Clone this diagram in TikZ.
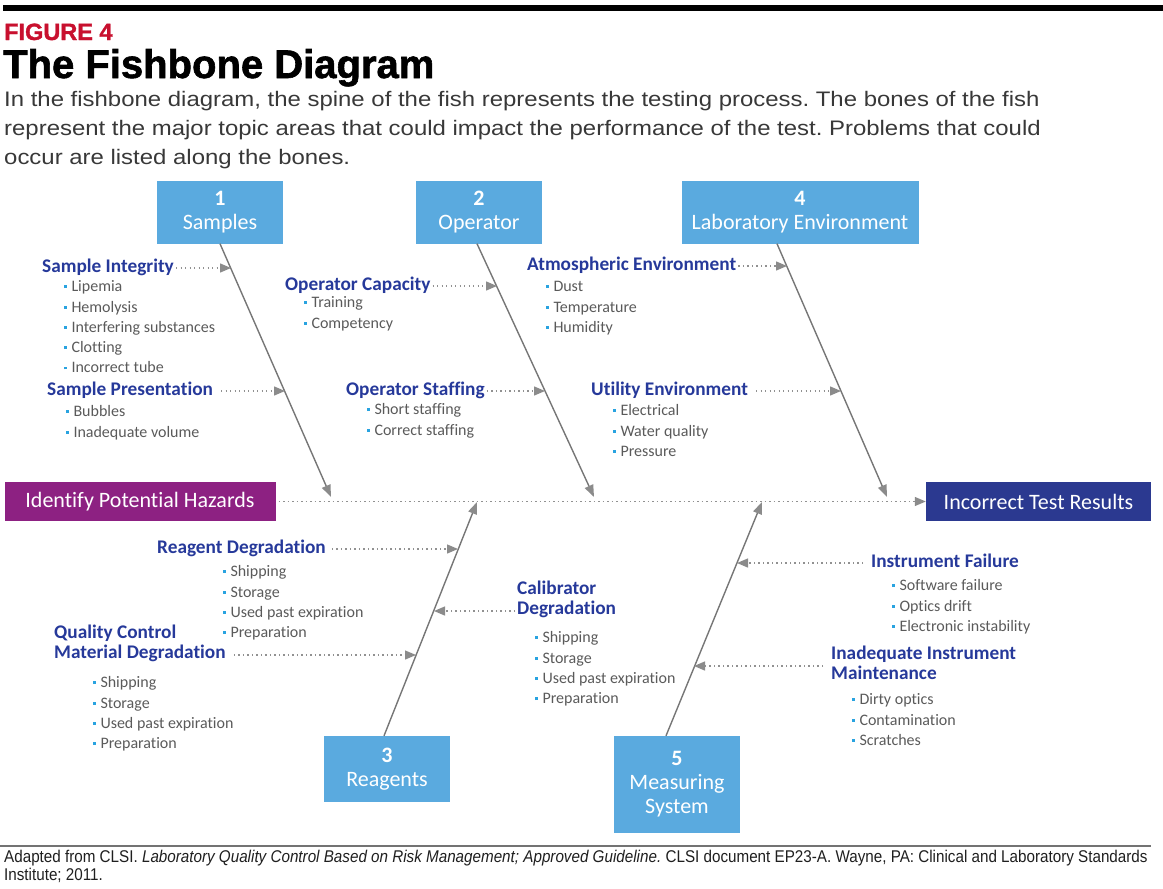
\documentclass[tikz,border=0pt]{standalone}
\usepackage{fontspec}
\usepackage{xcolor}
\setmainfont{Liberation Sans}
\newfontfamily\diagfont[Ligatures=NoCommon]{Carlito}
\newfontfamily\introfont[FakeStretch=1.14]{Liberation Sans}
\newfontfamily\heavyfont[FakeBold=1.5]{Liberation Sans Bold}
\newfontfamily\notefont[FakeStretch=0.895]{Liberation Sans}
\usetikzlibrary{arrows.meta}
\frenchspacing

\definecolor{boxblue}{HTML}{5AAADF}
\definecolor{hazpurple}{HTML}{8D2182}
\definecolor{resnavy}{HTML}{2B3990}
\definecolor{headblue}{HTML}{26399A}
\definecolor{itemgray}{HTML}{5A5A5A}
\definecolor{dotblue}{HTML}{29A3E0}
\definecolor{bonegray}{HTML}{767676}
\definecolor{figred}{HTML}{C8102E}

\newcommand{\itm}[1]{\strut\textcolor{dotblue}{\rule[3.5pt]{2.8pt}{2.8pt}}\hspace{4.5pt}#1}

\tikzset{
  catbox/.style={fill=boxblue, text=white, align=center, inner sep=0pt,
    font=\diagfont\fontsize{22}{24}\selectfont},
  endbox/.style={text=white, inner sep=0pt, minimum height=39pt,
    font=\diagfont\fontsize{22}{24}\selectfont},
  cause/.style={text=headblue, anchor=west, align=left, inner sep=2pt,
    font=\diagfont\bfseries\fontsize{19.3}{20.5}\selectfont, execute at begin node=\strut},
  items/.style={text=itemgray, anchor=north west, align=left, inner sep=0pt,
    font=\diagfont\fontsize{16}{20.3}\selectfont},
  bone/.style={draw=bonegray, line width=1.4pt,
    -{Triangle[length=12pt,width=9pt,fill=bonegray!85,color=bonegray!85]}},
  feed/.style={draw=bonegray!80, line width=1.3pt, dash pattern=on 1.3pt off 3.2pt,
    -{Triangle[length=11pt,width=9pt,fill=bonegray!85,color=bonegray!85]}}
}

\begin{document}
\begin{tikzpicture}[x=1pt,y=-1pt]
  \useasboundingbox (0,0) rectangle (1163,889);

  \fill[black] (3,5) rectangle (1163,11);
  \node[anchor=base west, inner sep=0pt, text=figred, font=\heavyfont\fontsize{23.5}{24}\selectfont] (fig) at (4,40) {FIGURE 4};
  \node[anchor=base west, inner sep=0pt, font=\heavyfont\fontsize{40}{42}\selectfont] (title) at (3,78) {The Fishbone Diagram};
  \node[anchor=north west, inner sep=0pt, align=left, text=black!78, font=\introfont\fontsize{21}{29}\selectfont] (intro) at (4,85.7)
    {\strut In the fishbone diagram, the spine of the fish represents the testing process. The bones of the fish\\
     represent the major topic areas that could impact the performance of the test. Problems that could\\
     occur are listed along the bones.};

  \node[catbox, minimum width=126pt, minimum height=63pt] (samples) at (220,212) {\textbf{1}\\Samples};
  \node[catbox, minimum width=126pt, minimum height=63pt] (operator) at (479,212) {\textbf{2}\\Operator};
  \node[catbox, minimum width=237pt, minimum height=63pt] (labenv) at (800,212) {\textbf{4}\\Laboratory Environment};
  \node[catbox, minimum width=126pt, minimum height=66pt] (reagents) at (387,769) {\textbf{3}\\Reagents};
  \node[catbox, minimum width=126pt, minimum height=97pt] (measuring) at (677,784.5) {\textbf{5}\\Measuring\\System};

  \node[endbox, fill=hazpurple, minimum width=271pt] (hazards) at (140,501.5) {Identify Potential Hazards};
  \node[endbox, fill=resnavy, minimum width=225pt] (results) at (1038.5,501.5) {Incorrect Test Results};

  \coordinate (t1) at (331,497);
  \coordinate (t2) at (594,497);
  \coordinate (t4) at (887,497);
  \coordinate (t3) at (477,502);
  \coordinate (t5) at (762,502);

  \draw[feed, shorten <=3pt] (hazards.east) -- (results.west);
  \draw[bone] (samples.south) -- (t1);
  \draw[bone] ([xshift=-2pt]operator.south) -- (t2);
  \draw[bone] ([xshift=-23pt]labenv.south) -- (t4);
  \draw[bone] ([xshift=-3pt]reagents.north) -- (t3);
  \draw[bone] ([xshift=-11pt]measuring.north) -- (t5);

  \node[cause] (integ) at (40,268) {Sample Integrity};
  \node[items] (integlist) at (64,277.3) {\itm{Lipemia}\\\itm{Hemolysis}\\\itm{Interfering substances}\\\itm{Clotting}\\\itm{Incorrect tube}};
  \node[cause] (present) at (45,391) {Sample Presentation};
  \node[items] (presentlist) at (66,402.3) {\itm{Bubbles}\\\itm{Inadequate volume}};
  \node[cause] (capacity) at (283,286) {Operator Capacity};
  \node[items] (capacitylist) at (304,293.3) {\itm{Training}\\\itm{Competency}};
  \node[cause] (staffing) at (344,391) {Operator Staffing};
  \node[items] (staffinglist) at (367,400.3) {\itm{Short staffing}\\\itm{Correct staffing}};
  \node[cause] (atmos) at (525,266) {Atmospheric Environment};
  \node[items] (atmoslist) at (546,277.3) {\itm{Dust}\\\itm{Temperature}\\\itm{Humidity}};
  \node[cause] (utility) at (589,391) {Utility Environment};
  \node[items] (utilitylist) at (613,401.3) {\itm{Electrical}\\\itm{Water quality}\\\itm{Pressure}};
  \node[cause] (reagdeg) at (155,549) {Reagent Degradation};
  \node[items] (reagdeglist) at (223,562.3) {\itm{Shipping}\\\itm{Storage}\\\itm{Used past expiration}\\\itm{Preparation}};
  \node[cause] (qcdeg) at (52,645) {Quality Control\\Material Degradation};
  \node[items] (qcdeglist) at (93,673.3) {\itm{Shipping}\\\itm{Storage}\\\itm{Used past expiration}\\\itm{Preparation}};
  \node[cause] (calib) at (515,601) {Calibrator\\Degradation};
  \node[items] (caliblist) at (535,628.3) {\itm{Shipping}\\\itm{Storage}\\\itm{Used past expiration}\\\itm{Preparation}};
  \node[cause] (failure) at (869,563) {Instrument Failure};
  \node[items] (failurelist) at (892,576.3) {\itm{Software failure}\\\itm{Optics drift}\\\itm{Electronic instability}};
  \node[cause] (maint) at (829,666) {Inadequate Instrument\\Maintenance};
  \node[items] (maintlist) at (852,690.3) {\itm{Dirty optics}\\\itm{Contamination}\\\itm{Scratches}};

  \coordinate (f1) at (231,268);
  \coordinate (f2) at (285,391);
  \coordinate (f3) at (497,286);
  \coordinate (f4) at (545,391);
  \coordinate (f5) at (787,266);
  \coordinate (f6) at (841,391);
  \coordinate (f7) at (458,549);
  \coordinate (f8) at (416,655);
  \coordinate (f9) at (434,611);
  \coordinate (f10) at (737,563);
  \coordinate (f11) at (694,666);

  \draw[feed] (integ.east) -- (f1);
  \draw[feed, shorten <=6pt] (present.east) -- (f2);
  \draw[feed] (capacity.east) -- (f3);
  \draw[feed] (staffing.east) -- (f4);
  \draw[feed] (atmos.east) -- (f5);
  \draw[feed, shorten <=6pt] (utility.east) -- (f6);
  \draw[feed, shorten <=4pt] (reagdeg.east) -- (f7);
  \draw[feed, shorten <=6pt] ([yshift=-10pt]qcdeg.east) -- (f8);
  \draw[feed] ([yshift=-10pt]calib.west) -- (f9);
  \draw[feed, shorten <=6pt] (failure.west) -- (f10);
  \draw[feed, shorten <=6pt] (maint.west) -- (f11);

  \draw[black!55, line width=1.3pt] (0,846) -- (1151,846);
  \node[anchor=north west, inner sep=0pt, align=left, text=black!88, font=\notefont\fontsize{17}{18}\selectfont] (source) at (4,850)
    {\strut Adapted from CLSI. \textit{Laboratory Quality Control Based on Risk Management; Approved Guideline.} CLSI document EP23-A. Wayne, PA: Clinical and Laboratory Standards\\
     Institute; 2011.};
\end{tikzpicture}
\end{document}
